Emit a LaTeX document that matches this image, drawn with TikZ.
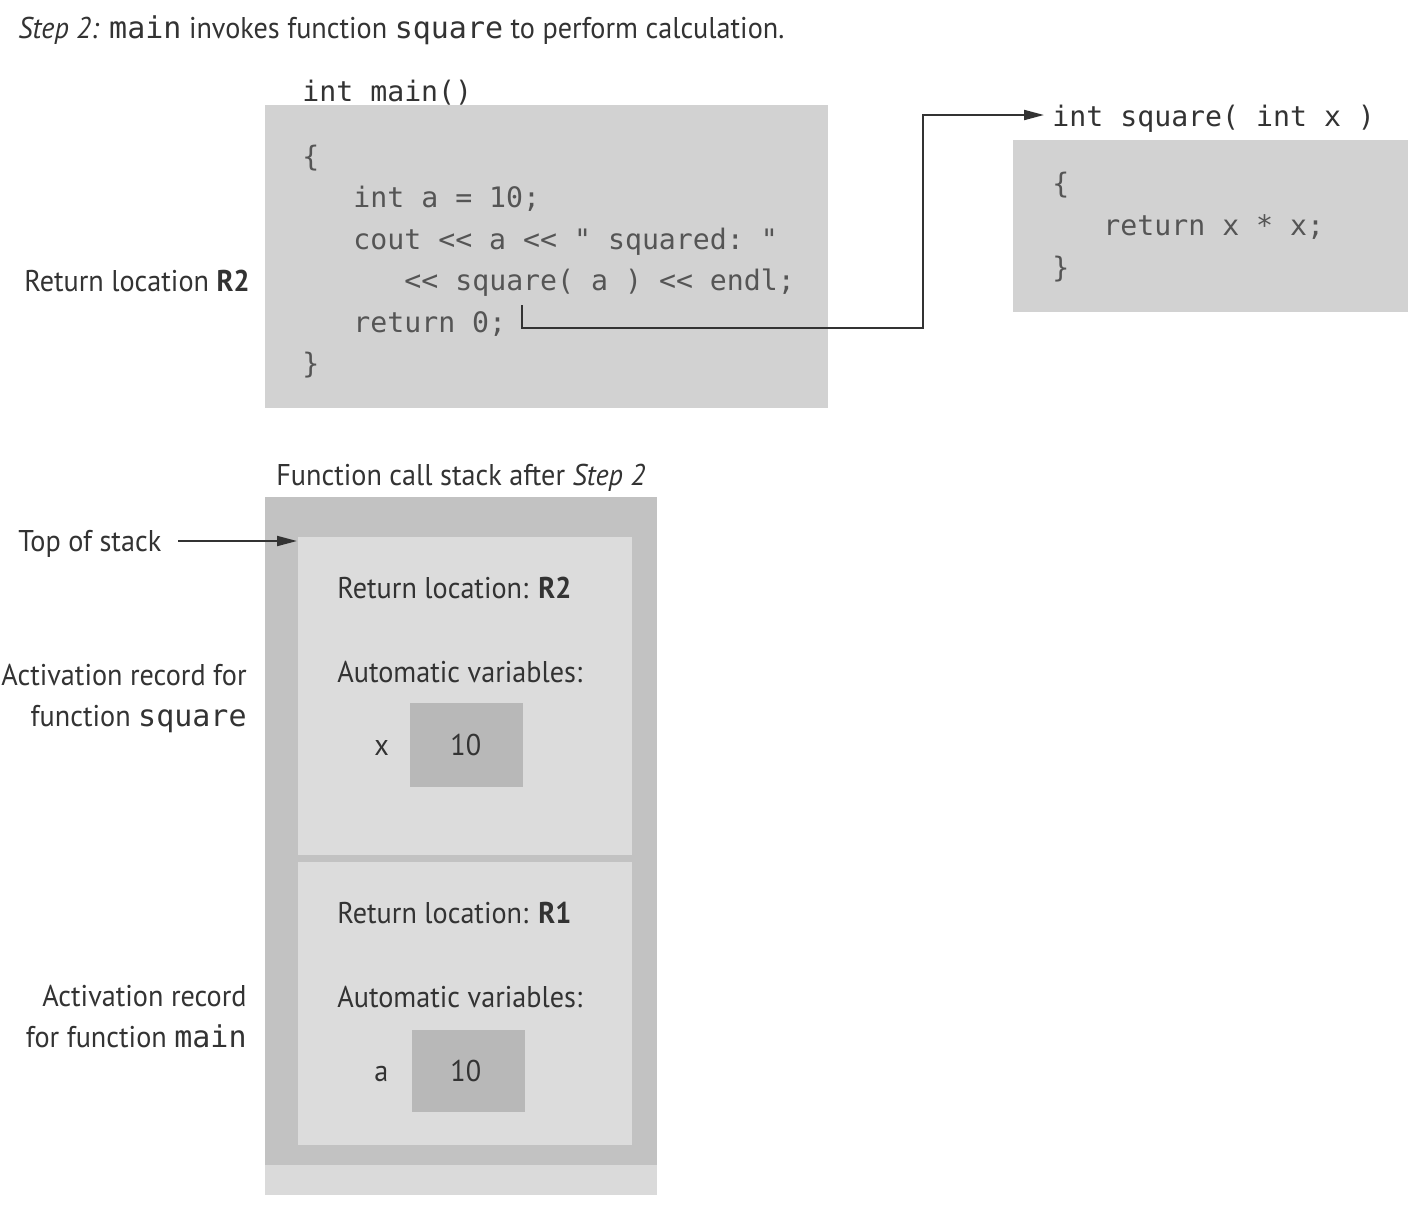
\documentclass[tikz,border=0pt]{standalone}
\usepackage{fontspec}
\setmainfont[FakeStretch=0.94]{PT Sans}
\setmonofont{DejaVu Sans Mono}
\usetikzlibrary{arrows.meta}
\definecolor{codebg}{HTML}{D2D2D2}
\definecolor{stackbg}{HTML}{C2C2C2}
\definecolor{recbg}{HTML}{DCDCDC}
\definecolor{varbg}{HTML}{B8B8B8}
\definecolor{ink}{HTML}{333333}
\definecolor{codeink}{HTML}{555555}
\tikzset{
  lbl/.style={inner sep=0pt, text=ink, font=\fontsize{15}{18}\selectfont},
  code/.style={inner sep=0pt, text=codeink, font=\fontsize{14.1}{17}\selectfont\ttfamily},
  sig/.style={inner sep=0pt, text=ink, font=\fontsize{14.1}{17}\selectfont\ttfamily},
  conn/.style={draw=ink, line width=1pt, -{Triangle[length=10pt,width=5pt]}},
}
\begin{document}
\begin{tikzpicture}[x=0.5pt,y=-0.5pt]
\useasboundingbox (0,0) rectangle (1416,1215);
\fill[white] (0,0) rectangle (1416,1215);
% title
\node[lbl, anchor=base west] (title) at (18,38) {\textit{Step 2:} \texttt{main} invokes function \texttt{square} to perform calculation.};
% main code box
\fill[codebg] (265,105) rectangle (828,408);
\node[sig, anchor=base west] (mainsig) at (302,101) {int main()};
\node[code, anchor=base west] (m1) at (302,166) {\{};
\node[code, anchor=base west] (m2) at (353,207) {int a = 10;};
\node[code, anchor=base west] (m3) at (353,249) {cout << a << " squared: "};
\node[code, anchor=base west] (m4) at (404,290) {<< square( a ) << endl;};
\node[code, anchor=base west] (m5) at (353,332) {return 0;};
\node[code, anchor=base west] (m6) at (302,373) {\}};
\node[lbl, anchor=base east] (r2lbl) at (250,291) {Return location \textbf{R2}};
% square code box
\fill[codebg] (1013,140) rectangle (1408,312);
\node[sig, anchor=base west] (sqsig) at (1052,126) {int square( int x )};
\node[code, anchor=base west] (s1) at (1052,193) {\{};
\node[code, anchor=base west] (s2) at (1103,235) {return x * x;};
\node[code, anchor=base west] (s3) at (1052,277) {\}};
% call connector
\coordinate (rt) at (522,305);
\coordinate (turn) at (923,328);
\coordinate (sqin) at (1044,115);
\draw[conn] (rt) |- (turn) |- (sqin);
% stack
\node[lbl, anchor=base west] (stacktitle) at (276,485) {Function call stack after \textit{Step 2}};
\fill[stackbg] (265,497) rectangle (657,1165);
\fill[stackbg!60!white] (265,1165) rectangle (657,1195);
\fill[recbg] (298,537) rectangle (632,855);
\fill[recbg] (298,862) rectangle (632,1145);
\fill[varbg] (410,703) rectangle (523,787);
\fill[varbg] (412,1030) rectangle (525,1112);
\node[lbl, anchor=base west] (ret2) at (337,598) {Return location: \textbf{R2}};
\node[lbl, anchor=base west] (auto1) at (337,682) {Automatic variables:};
\node[lbl, anchor=base west] (vx) at (374,755) {x};
\node[lbl, anchor=base west] (vx10) at (450,755) {10};
\node[lbl, anchor=base west] (ret1) at (337,923) {Return location: \textbf{R1}};
\node[lbl, anchor=base west] (auto2) at (337,1007) {Automatic variables:};
\node[lbl, anchor=base west] (va) at (374,1081) {a};
\node[lbl, anchor=base west] (va10) at (450,1081) {10};
% left labels
\node[lbl, anchor=base west] (top) at (18,551) {Top of stack};
\coordinate (topout) at (178,541);
\coordinate (topin) at (297,541);
\draw[conn] (topout) -- (topin);
\node[lbl, anchor=base east] (ar1a) at (247,685) {Activation record for};
\node[lbl, anchor=base east] (ar1b) at (247,726) {function \texttt{square}};
\node[lbl, anchor=base east] (ar2a) at (247,1006) {Activation record};
\node[lbl, anchor=base east] (ar2b) at (247,1047) {for function \texttt{main}};
\end{tikzpicture}
\end{document}
